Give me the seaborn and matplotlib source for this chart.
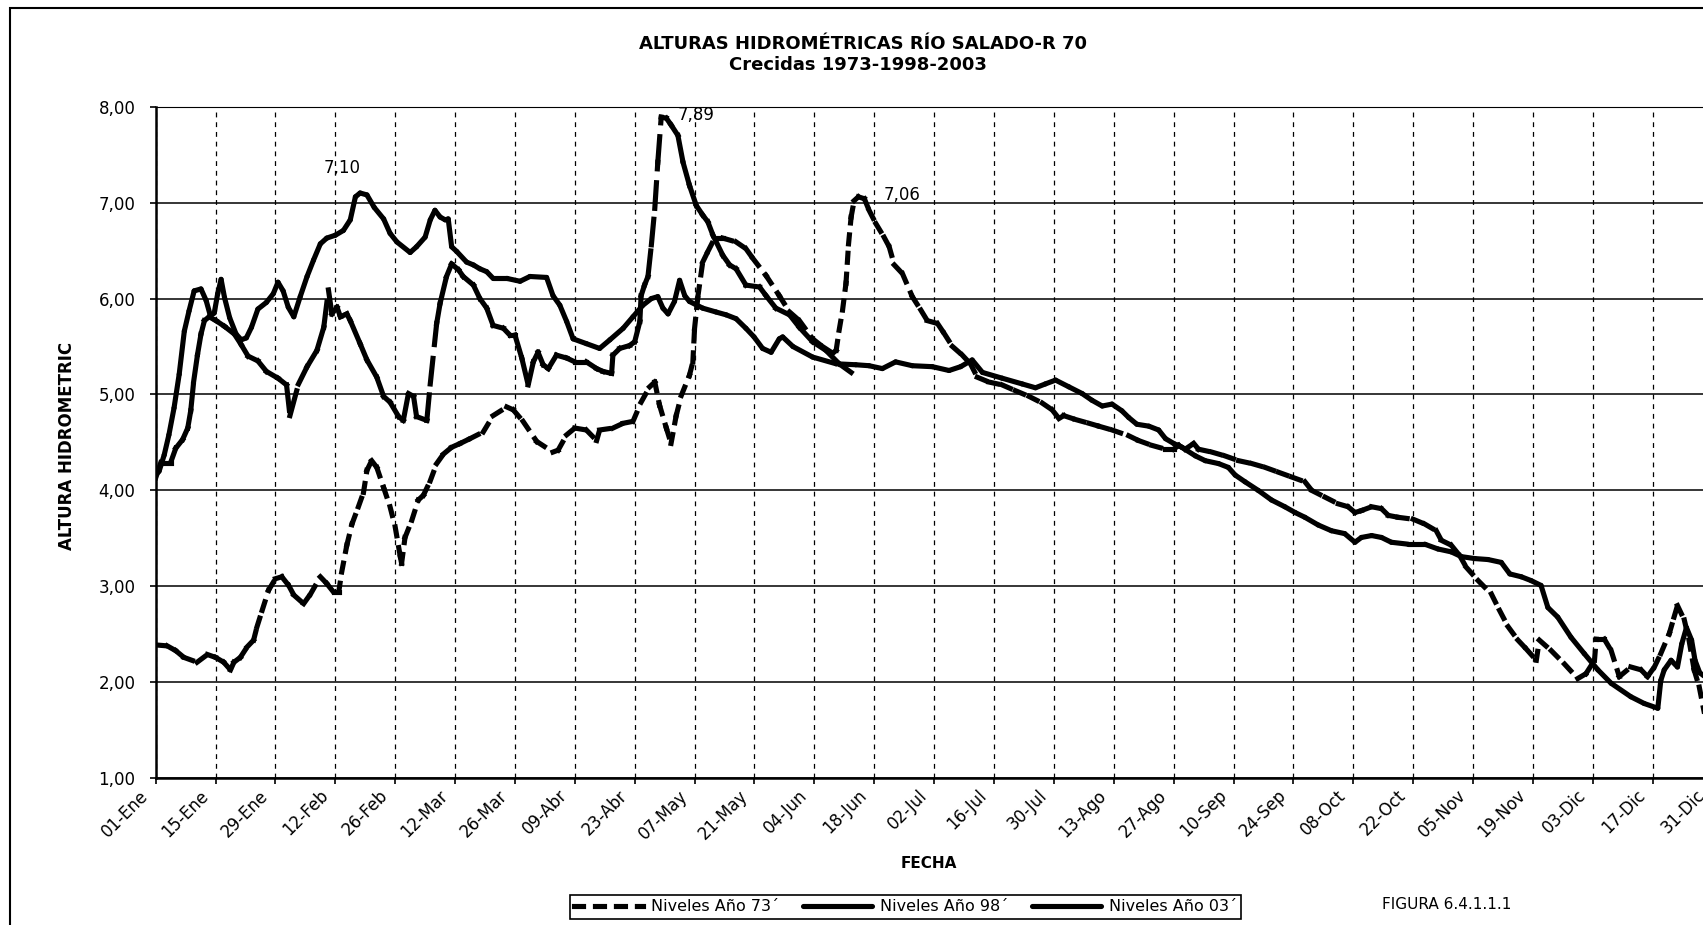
import matplotlib
matplotlib.use("Agg")
import matplotlib.pyplot as plt
import pandas as pd
import seaborn as sns
from matplotlib.lines import Line2D
from matplotlib.patches import Rectangle
from matplotlib.transforms import ScaledTranslation

# Fechas del eje X (cada 14 dias desde el 01-Ene)
etiquetas_fecha = ["01-Ene", "15-Ene", "29-Ene", "12-Feb", "26-Feb", "12-Mar", "26-Mar",
                   "09-Abr", "23-Abr", "07-May", "21-May", "04-Jun", "18-Jun", "02-Jul",
                   "16-Jul", "30-Jul", "13-Ago", "27-Ago", "10-Sep", "24-Sep", "08-Oct",
                   "22-Oct", "05-Nov", "19-Nov", "03-Dic", "17-Dic", "31-Dic"]
dias_tick = list(range(0, 365, 14))
alturas_tick = [1, 2, 3, 4, 5, 6, 7, 8]

series = ["Niveles Año 73´", "Niveles Año 98´", "Niveles Año 03´"]

# Niveles 1973 (dia del año, altura en m)
dias_73 = [0, 2.7, 4.7, 6.6, 9.7, 12.1, 14.0, 15.9, 17.5, 18.3, 19.8, 21.4, 22.9, 23.7, 24.9,
           26.4, 28.0, 29.5, 31.1, 32.3, 34.6, 36.2, 38.5, 40.0, 41.6, 42.8, 43.5, 44.7, 45.9,
           47.4, 48.6, 49.4, 50.5, 51.7, 53.3, 54.8, 56.0, 57.2, 57.5, 58.3, 59.9, 61.4, 62.6,
           64.2, 65.7, 67.3, 69.2, 71.2, 73.5, 76.6, 78.9, 82.1, 83.6, 85.9, 89.1, 92.9, 94.1,
           96.1, 98.0, 100.7, 103.1, 103.8, 106.9, 109.3, 111.6, 113.5, 115.5, 116.7, 117.8,
           119.4, 120.5, 121.7, 122.9, 124.8, 125.6, 126.0, 126.8, 127.9, 129.1, 130.7, 132.6,
           135.7, 138.0, 139.6, 142.7, 145.8, 148.2, 150.5, 153.6, 155.9, 158.3, 159.1, 159.8,
           160.6, 161.4, 162.0, 162.6, 163.3, 164.3, 165.7, 166.8, 168.4, 170.3, 171.5, 172.7,
           174.6, 176.9, 178.9, 180.4, 182.8, 184.3, 186.3, 188.6, 190.5, 192.1, 194.8, 197.9,
           201.0, 204.2, 207.3, 209.6, 211.2, 212.3, 215.0, 218.2, 220.5, 223.6, 227.5, 229.8,
           232.9, 236.1, 238.0, 239.2, 240.7, 242.7, 243.8, 246.9, 250.0, 253.2, 256.3, 259.4,
           262.5, 265.6, 268.7, 270.3, 273.4, 276.5, 278.8, 280.4, 281.9, 284.3, 286.6, 288.2,
           290.5, 294.0, 296.7, 299.4, 300.6, 302.9, 304.9, 306.4, 309.2, 312.3, 314.2, 316.2,
           318.5, 320.4, 322.8, 323.5, 326.3, 329.4, 332.5, 334.4, 336.4, 336.8, 338.7, 340.3,
           342.2, 344.9, 347.3, 348.8, 350.4, 351.9, 353.9, 355.0, 355.8, 357.4, 358.5, 359.7,
           360.9, 362.0]
alturas_73 = [2.39, 2.38, 2.33, 2.26, 2.21, 2.29, 2.26, 2.21, 2.13, 2.21, 2.26, 2.37, 2.44, 2.58,
              2.75, 2.96, 3.08, 3.10, 3.01, 2.91, 2.82, 2.92, 3.10, 3.03, 2.94, 2.94, 3.15, 3.43,
              3.65, 3.83, 3.98, 4.21, 4.31, 4.24, 4.03, 3.83, 3.62, 3.31, 3.24, 3.51, 3.69, 3.90,
              3.95, 4.10, 4.28, 4.38, 4.45, 4.49, 4.54, 4.61, 4.78, 4.87, 4.84, 4.72, 4.51, 4.40,
              4.42, 4.58, 4.65, 4.63, 4.52, 4.63, 4.65, 4.70, 4.72, 4.92, 5.08, 5.13, 4.89, 4.65,
              4.49, 4.78, 4.99, 5.20, 5.34, 5.69, 6.03, 6.38, 6.49, 6.63, 6.63, 6.59, 6.52, 6.42,
              6.24, 6.03, 5.86, 5.77, 5.58, 5.50, 5.43, 5.46, 5.67, 5.88, 6.16, 6.57, 6.85, 7.02,
              7.06, 7.04, 6.92, 6.78, 6.64, 6.54, 6.35, 6.26, 6.02, 5.88, 5.77, 5.74, 5.64, 5.50,
              5.41, 5.32, 5.18, 5.13, 5.10, 5.04, 4.98, 4.91, 4.84, 4.75, 4.78, 4.74, 4.70, 4.67,
              4.63, 4.57, 4.52, 4.47, 4.43, 4.43, 4.47, 4.43, 4.49, 4.43, 4.40, 4.36, 4.31, 4.28,
              4.24, 4.19, 4.14, 4.09, 4.00, 3.93, 3.86, 3.83, 3.77, 3.79, 3.83, 3.81, 3.74, 3.72,
              3.70, 3.65, 3.58, 3.48, 3.43, 3.32, 3.20, 3.06, 2.92, 2.75, 2.58, 2.44, 2.35, 2.23,
              2.44, 2.33, 2.19, 2.04, 2.09, 2.23, 2.45, 2.45, 2.33, 2.06, 2.16, 2.13, 2.06, 2.16,
              2.30, 2.51, 2.68, 2.80, 2.65, 2.44, 2.13, 1.95, 1.70]

# Niveles 1998
dias_98 = [0, 0.8, 2.0, 3.1, 4.3, 5.5, 6.7, 7.8, 9.0, 10.6, 11.8, 12.8, 13.7, 14.5, 15.3, 16.1,
           17.3, 18.8, 20.0, 21.2, 22.4, 23.9, 25.9, 27.5, 28.6, 29.8, 31.0, 32.3, 33.8, 35.4,
           36.9, 38.5, 40.0, 42.0, 43.9, 45.5, 46.7, 47.8, 49.4, 51.1, 53.3, 54.8, 56.4, 59.5,
           61.0, 63.0, 64.2, 65.3, 66.5, 67.7, 68.4, 69.2, 70.4, 72.7, 74.3, 75.8, 77.4, 78.9,
           82.1, 85.2, 87.5, 91.4, 92.9, 94.5, 96.1, 97.6, 100.7, 103.8, 106.2, 109.3, 111.6,
           113.9, 115.9, 117.4, 118.6, 119.8, 121.3, 122.5, 123.7, 124.8, 127.9, 131.0, 133.4,
           135.7, 138.0, 139.9, 141.9, 143.9, 145.8, 146.6, 149.0, 153.6, 159.1, 163.7, 166.8,
           169.9, 173.0, 176.9, 181.6, 185.5, 188.2, 190.9, 193.3, 197.9, 202.6, 205.7, 208.0,
           210.4, 213.5, 216.6, 218.9, 221.3, 223.6, 225.9, 227.5, 229.4, 232.2, 234.5, 236.1,
           238.0, 239.9, 243.1, 245.4, 248.5, 250.8, 252.4, 254.7, 257.8, 260.9, 264.0, 266.4,
           268.7, 271.8, 274.9, 278.0, 280.4, 281.9, 284.3, 286.6, 288.9, 292.8, 296.7, 299.8,
           302.9, 305.3, 308.4, 311.5, 314.6, 316.6, 319.3, 321.6, 323.9, 325.5, 327.8, 330.9,
           334.0, 337.2, 340.3, 344.9, 348.0, 351.2, 351.9, 352.7, 354.3, 355.8, 356.8, 357.9,
           359.1, 359.9, 361.0, 362.5]
alturas_98 = [4.16, 4.20, 4.37, 4.58, 4.86, 5.21, 5.66, 5.87, 6.08, 6.10, 5.98, 5.82, 5.85, 6.05,
              6.20, 6.01, 5.80, 5.63, 5.57, 5.59, 5.70, 5.89, 5.96, 6.05, 6.17, 6.08, 5.91, 5.81,
              6.02, 6.23, 6.40, 6.57, 6.63, 6.66, 6.71, 6.82, 7.06, 7.10, 7.08, 6.95, 6.83, 6.68,
              6.59, 6.48, 6.54, 6.64, 6.82, 6.92, 6.85, 6.82, 6.83, 6.54, 6.49, 6.38, 6.35, 6.31,
              6.28, 6.21, 6.21, 6.18, 6.23, 6.22, 6.03, 5.93, 5.76, 5.58, 5.53, 5.48, 5.57, 5.69,
              5.81, 5.93, 6.00, 6.02, 5.90, 5.84, 5.97, 6.19, 6.03, 5.97, 5.90, 5.86, 5.83, 5.79,
              5.69, 5.60, 5.48, 5.44, 5.58, 5.60, 5.50, 5.39, 5.32, 5.31, 5.30, 5.27, 5.34, 5.30,
              5.29, 5.25, 5.29, 5.36, 5.23, 5.17, 5.11, 5.07, 5.11, 5.15, 5.08, 5.01, 4.94, 4.88,
              4.90, 4.83, 4.76, 4.69, 4.67, 4.63, 4.54, 4.49, 4.45, 4.36, 4.31, 4.28, 4.24, 4.16,
              4.09, 4.00, 3.90, 3.83, 3.77, 3.72, 3.64, 3.58, 3.55, 3.46, 3.51, 3.53, 3.51, 3.46,
              3.44, 3.44, 3.39, 3.36, 3.31, 3.29, 3.28, 3.25, 3.13, 3.10, 3.06, 3.01, 2.78, 2.68,
              2.47, 2.30, 2.13, 1.99, 1.85, 1.78, 1.73, 2.02, 2.13, 2.23, 2.16, 2.40, 2.57, 2.44,
              2.23, 2.10, 2.05]

# Niveles 2003 (hasta mediados de junio)
dias_03 = [0, 1.2, 3.5, 4.7, 6.3, 7.5, 8.2, 8.9, 9.8, 10.6, 11.4, 12.5, 14.1, 16.1, 18.4, 20.0,
           21.6, 23.9, 25.9, 28.6, 30.6, 31.4, 33.4, 35.4, 37.7, 39.3, 40.4, 41.2, 42.4, 43.2,
           44.7, 45.5, 47.8, 49.4, 51.7, 53.3, 54.8, 56.8, 57.9, 59.1, 60.3, 61.0, 63.4, 64.2,
           65.7, 66.5, 68.0, 69.2, 70.8, 71.9, 74.3, 75.8, 77.4, 78.9, 81.3, 82.8, 84.0, 85.6,
           87.1, 88.3, 89.4, 90.6, 91.8, 93.7, 96.1, 98.0, 100.7, 103.1, 104.6, 106.6, 106.9,
           108.5, 110.8, 112.0, 113.2, 113.5, 114.3, 115.1, 115.9, 116.7, 117.4, 118.2, 119.4,
           120.5, 122.1, 123.3, 124.8, 126.4, 127.9, 129.1, 130.3, 132.6, 134.2, 135.7, 138.0,
           141.2, 142.7, 145.0, 148.2, 150.5, 153.6, 156.7, 159.8, 162.6]
alturas_03 = [4.13, 4.29, 4.29, 4.44, 4.53, 4.65, 4.83, 5.14, 5.42, 5.63, 5.77, 5.81, 5.77, 5.71,
              5.63, 5.52, 5.40, 5.35, 5.24, 5.17, 5.10, 4.78, 5.11, 5.29, 5.46, 5.70, 6.09, 5.84,
              5.91, 5.81, 5.84, 5.77, 5.53, 5.36, 5.18, 4.98, 4.92, 4.77, 4.73, 5.01, 4.98, 4.77,
              4.73, 5.11, 5.74, 5.95, 6.23, 6.36, 6.30, 6.23, 6.14, 6.00, 5.90, 5.72, 5.69, 5.62,
              5.62, 5.38, 5.10, 5.34, 5.44, 5.31, 5.27, 5.41, 5.38, 5.34, 5.34, 5.27, 5.24, 5.22,
              5.41, 5.48, 5.51, 5.55, 5.76, 6.03, 6.14, 6.23, 6.56, 6.94, 7.42, 7.89, 7.88, 7.81,
              7.70, 7.42, 7.18, 6.97, 6.87, 6.80, 6.66, 6.45, 6.35, 6.31, 6.14, 6.12, 6.03, 5.90,
              5.83, 5.70, 5.55, 5.46, 5.32, 5.23]

datos = {series[0]: (dias_73, alturas_73),
         series[1]: (dias_98, alturas_98),
         series[2]: (dias_03, alturas_03)}

# Cada tramo entre dos lecturas es una linea aparte: el trazo discontinuo
# arranca de nuevo en cada tramo, como en la planilla original
filas = []
for serie, (dias, alturas) in datos.items():
    for i in range(len(dias) - 1):
        tramo = f"{serie}-{i}"
        filas.append((serie, tramo, dias[i], alturas[i]))
        filas.append((serie, tramo, dias[i + 1], alturas[i + 1]))
tramos = pd.DataFrame(filas, columns=["serie", "tramo", "dia", "altura"])

sns.set_theme(style="white")
plt.rcParams["font.family"] = ["DejaVu Sans"]
plt.rcParams["lines.scale_dashes"] = False
for clave in ["text.color", "axes.labelcolor", "xtick.color", "ytick.color"]:
    plt.rcParams[clave] = "black"

trazos = {series[0]: (6.5, 8.6), series[1]: "", series[2]: (18.5, 10.0)}

fig = plt.figure(figsize=(17.03, 9.25), dpi=100)
ax = fig.add_axes([0.0914, 0.1586, 0.9343, 0.7261])

sns.lineplot(data=tramos, x="dia", y="altura", units="tramo", estimator=None,
             style="serie", dashes=trazos, color="black", linewidth=3.7,
             solid_capstyle="round", dash_capstyle="projecting",
             sort=False, legend=False, ax=ax, zorder=3)

ax.set_xlim(0, 372)
ax.set_ylim(1, 8)
ax.set_xlabel("")
ax.set_ylabel("")

ax.set_xticks(dias_tick)
ax.set_xticklabels(etiquetas_fecha, rotation=45, ha="right", va="center",
                   rotation_mode="anchor", fontsize=12, color="black")
ax.set_yticks(alturas_tick)
ax.set_yticklabels([f"{v},00" for v in alturas_tick], fontsize=12, color="black")
ax.tick_params(axis="both", direction="out", length=4.5, width=1.2, color="black",
               bottom=True, left=True)
ax.tick_params(axis="x", pad=6)
ax.tick_params(axis="y", pad=10)
desplazo = ScaledTranslation(-0.10, 0, fig.dpi_scale_trans)
for lbl in ax.get_xticklabels():
    lbl.set_transform(lbl.get_transform() + desplazo)

ax.grid(axis="y", color="black", linewidth=1.1, linestyle="-")
ax.grid(axis="x", color="black", linewidth=0.9, linestyle=(0, (3.5, 3.5)))
ax.set_axisbelow(True)
for lado in ["left", "bottom"]:
    ax.spines[lado].set_linewidth(1.8)
    ax.spines[lado].set_color("black")
ax.spines["top"].set_linewidth(0.8)
ax.spines["top"].set_color("black")

# rotulos de los picos
desvios = [(18, 1), (-26, 18), (12, 1.5)]
for serie, off in zip(series, desvios):
    dias, alturas = datos[serie]
    k = alturas.index(max(alturas))
    ax.annotate(f"{alturas[k]:.2f}".replace(".", ","), xy=(dias[k], alturas[k]),
                xytext=off, textcoords="offset points", ha="left", va="center",
                fontsize=12, color="black")

fig.text(0.507, 0.9519, "ALTURAS HIDROMÉTRICAS RÍO SALADO-R 70", ha="center",
         va="center", fontsize=13, fontweight="bold")
fig.text(0.504, 0.9297, "Crecidas 1973-1998-2003", ha="center", va="center",
         fontsize=13, fontweight="bold")
fig.text(0.0393, 0.5178, "ALTURA HIDROMETRIC", rotation=90, ha="center", va="center",
         fontsize=12, fontweight="bold")
fig.text(0.5453, 0.067, "FECHA", ha="center", va="center", fontsize=11,
         fontweight="bold")
fig.text(0.8497, 0.0227, "FIGURA 6.4.1.1.1", ha="center", va="center", fontsize=11)

manejadores = [Line2D([], [], color="black", lw=3.7, dashes=trazos[series[0]],
                      dash_capstyle="projecting"),
               Line2D([], [], color="black", lw=3.7, ls="-"),
               Line2D([], [], color="black", lw=3.7, ls="-")]
ley = fig.legend(manejadores, series, loc="center", bbox_to_anchor=(0.5317, 0.0195),
                 ncol=3, frameon=True, fancybox=False, edgecolor="black", framealpha=1,
                 fontsize=11.5, handlelength=4.3, handletextpad=0.5, columnspacing=1.5,
                 borderpad=0.3)
ley.get_frame().set_linewidth(1.2)

# marco exterior del grafico
fig.add_artist(Rectangle((0.0059, -0.1), 1.2, 1.0914, transform=fig.transFigure,
                         fill=False, edgecolor="black", linewidth=1.5))

fig.savefig("out.png", dpi=100)
